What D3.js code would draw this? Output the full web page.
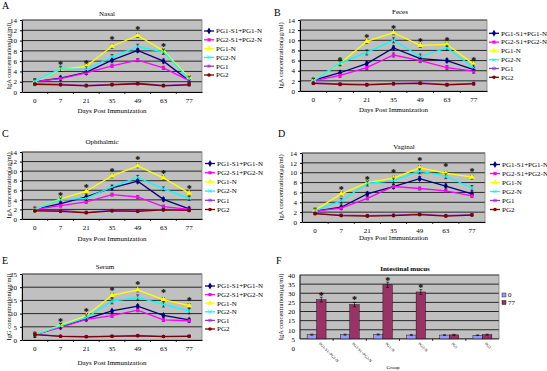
<!DOCTYPE html>
<html>
<head>
<meta charset="utf-8">
<script src="https://cdn.jsdelivr.net/npm/d3@7"></script>
<style>
body { margin: 0; background: #fff; }
svg { display: block; }
text { font-family: "Liberation Serif", "Times New Roman", serif; fill: #000; }
</style>
</head>
<body>
<div class="canvas"></div>
<script>
// categories
const days = ["0", "7", "21", "35", "49", "63", "77"]
const groups = ["PG1-S1+PG1-N", "PG2-S1+PG2-N", "PG1-N", "PG2-N", "PG1", "PG2"]
const colors = ["#000080", "#ff00ff", "#ffff00", "#00ffff", "#9933cc", "#800000"]

// A - nasal IgA, one row per group
const nasal = [
    [2.0, 2.7, 3.8, 6.2, 8.1, 6.0, 2.2],
    [2.0, 2.6, 3.7, 5.1, 6.2, 4.7, 2.2],
    [2.0, 4.4, 5.0, 8.9, 11.0, 8.0, 2.8],
    [2.1, 4.5, 4.4, 6.8, 8.8, 7.8, 2.5],
    [1.6, 1.5, 1.3, 1.5, 1.7, 1.3, 1.5],
    [1.5, 1.4, 1.2, 1.4, 1.6, 1.2, 1.4]
]
const nasalErr = [0.4, 0.3, 0.4, 0.5, 0.2, 0.2]
const nasalStars = [null, 5.6, 5.8, 10.5, 12.4, 9.0, null]

// B - feces IgA
const feces = [
    [2.1, 3.6, 5.4, 8.5, 6.4, 6.0, 4.2],
    [2.0, 3.1, 4.6, 7.1, 6.0, 4.6, 3.9],
    [2.1, 5.4, 9.8, 11.5, 9.0, 9.2, 5.3],
    [2.0, 5.5, 7.6, 10.0, 6.8, 8.5, 4.6],
    [1.6, 1.4, 1.3, 1.5, 1.6, 1.3, 1.5],
    [1.5, 1.3, 1.2, 1.4, 1.5, 1.2, 1.4]
]
const fecesErr = [0.4, 0.4, 0.4, 0.5, 0.2, 0.2]
const fecesStars = [null, 6.3, 10.8, 12.5, 10.0, 10.1, 6.2]

// C - ophthalmic IgA
const ophthalmic = [
    [2.0, 3.2, 4.6, 6.5, 7.9, 4.1, 2.1],
    [2.0, 2.8, 3.6, 5.1, 4.6, 2.6, 2.0],
    [2.0, 4.2, 5.8, 9.0, 11.1, 8.6, 5.4],
    [2.1, 4.0, 4.3, 6.7, 8.7, 6.3, 4.3],
    [1.8, 1.8, 1.4, 1.8, 1.7, 2.0, 1.9],
    [1.7, 1.6, 1.3, 1.7, 1.6, 1.9, 1.8]
]
const ophthalmicErr = [0.4, 0.3, 0.4, 0.4, 0.2, 0.2]
const ophthalmicStars = [null, 5.2, 6.8, 10.1, 12.7, 9.7, 6.6]

// D - vaginal IgA
const vaginal = [
    [2.2, 3.0, 5.7, 7.2, 8.8, 7.3, 5.7],
    [2.2, 2.8, 4.8, 7.2, 6.8, 6.3, 5.3],
    [2.4, 5.7, 8.0, 8.9, 11.0, 9.9, 9.1],
    [2.3, 4.3, 7.8, 8.4, 10.3, 9.3, 6.9],
    [1.7, 1.4, 1.3, 1.4, 1.6, 1.3, 1.5],
    [1.7, 1.3, 1.2, 1.3, 1.5, 1.2, 1.4]
]
const vaginalErr = [0.4, 0.3, 0.4, 0.5, 0.2, 0.2]
const vaginalStars = [null, 6.8, 8.8, 10.2, 12.6, 11.4, 10.5]

// E - serum IgG
const serum = [
    [2.0, 5.0, 8.0, 11.0, 12.8, 9.3, 7.6],
    [2.0, 4.8, 7.8, 9.2, 11.3, 7.6, 7.3],
    [2.0, 5.5, 9.2, 16.9, 19.0, 15.3, 13.0],
    [2.0, 5.3, 8.5, 14.7, 16.1, 13.5, 10.9],
    [2.1, 1.5, 1.3, 1.5, 1.7, 1.4, 1.5],
    [2.0, 1.4, 1.2, 1.4, 1.6, 1.3, 1.4]
]
const serumErr = [0.6, 0.6, 0.8, 1.0, 0.3, 0.3]
const serumStars = [null, 7.5, 11.3, 19.3, 21.5, 18.2, 15.5]

// F - intestinal mucus IgA, day 0 and day 77
const mucusDay0 = [7.3, 7.3, 7.4, 7.1, 7.1, 7.0]
const mucusDay77 = [26.5, 23.8, 34.6, 30.7, 7.2, 7.3]
const mucusErr0 = [0.3, 0.3, 0.3, 0.3, 0.2, 0.2]
const mucusErr77 = [1.3, 1.2, 1.5, 1.3, 0.3, 0.3]
const mucusStars = [29.4, 27.2, 37.8, 33.8, null, null]

const svg = d3.select(".canvas")
    .append("svg")
    .attr("width", 547)
    .attr("height", 371)

svg.append("rect").attr("width", 547).attr("height", 371).attr("fill", "#fff")

const symbols = [d3.symbolDiamond, d3.symbolSquare, d3.symbolTriangle, d3.symbolTimes, d3.symbolAsterisk || d3.symbolCross, d3.symbolCircle]
const symSizes = [14, 10, 14, 8, 10, 10]
const stroked = [false, false, false, true, true, false]

function marker(g, i, cx, cy) {
    const s = g.append("path")
        .attr("d", d3.symbol().type(symbols[i]).size(symSizes[i])())
        .attr("transform", `translate(${cx}, ${cy})`)
    if (stroked[i]) s.attr("fill", "none").attr("stroke", colors[i]).attr("stroke-width", 0.8)
    else s.attr("fill", colors[i])
}

function styleAxis(ax) {
    ax.attr("font-family", "Liberation Serif").attr("font-size", 7)
    ax.select(".domain").attr("stroke", "#000")
    ax.selectAll(".tick line").attr("stroke", "#000")
}

function linePanel(p) {
    const g = svg.append("g")
    const x = d3.scaleBand().domain(days).range([p.x0, p.x1])
    const y = d3.scaleLinear().domain([0, p.ymax]).range([p.y1, p.y0])
    const ticks = d3.range(0, p.ymax + p.step / 2, p.step)
    const cx = d => x(d) + x.bandwidth() / 2

    g.append("rect")
        .attr("x", p.x0).attr("y", p.y0)
        .attr("width", p.x1 - p.x0).attr("height", p.y1 - p.y0)
        .attr("fill", "#c0c0c0")

    g.selectAll(".grid")
        .data(ticks.slice(1))
        .enter()
        .append("line")
        .attr("x1", p.x0).attr("x2", p.x1)
        .attr("y1", d => y(d)).attr("y2", d => y(d))
        .attr("stroke", "#000").attr("stroke-width", 0.8)

    g.append("rect")
        .attr("x", p.x0).attr("y", p.y0)
        .attr("width", p.x1 - p.x0).attr("height", p.y1 - p.y0)
        .attr("fill", "none").attr("stroke", "#808080").attr("stroke-width", 0.8)

    const yAxisGroup = g.append("g")
        .attr("transform", `translate(${p.x0}, 0)`)
        .call(d3.axisLeft(y).tickValues(ticks).tickSize(2).tickPadding(3).tickSizeOuter(0))
    styleAxis(yAxisGroup)

    const xAxisGroup = g.append("g")
        .attr("transform", `translate(0, ${p.y1})`)
        .call(d3.axisBottom(x).tickSize(0).tickPadding(6).tickSizeOuter(0))
    styleAxis(xAxisGroup)

    // excel style ticks between categories
    g.selectAll(".xt")
        .data(days.slice(1))
        .enter()
        .append("line")
        .attr("x1", d => x(d)).attr("x2", d => x(d))
        .attr("y1", p.y1).attr("y2", p.y1 + 2)
        .attr("stroke", "#000").attr("stroke-width", 0.8)

    const line = d3.line()
        .x((d, i) => cx(days[i]))
        .y(d => y(d))

    p.data.forEach((vals, s) => {
        g.append("path")
            .attr("d", line(vals))
            .attr("fill", "none")
            .attr("stroke", colors[s])
            .attr("stroke-width", 1.3)

        vals.forEach((v, i) => {
            const px = cx(days[i])
            const e = p.err[s]
            g.append("line").attr("x1", px).attr("x2", px)
                .attr("y1", y(v - e)).attr("y2", y(v + e))
                .attr("stroke", "#000").attr("stroke-width", 0.6)
            ;[v - e, v + e].forEach(c => {
                g.append("line").attr("x1", px - 1.5).attr("x2", px + 1.5)
                    .attr("y1", y(c)).attr("y2", y(c))
                    .attr("stroke", "#000").attr("stroke-width", 0.6)
            })
            marker(g, s, px, y(v))
        })
    })

    p.stars.forEach((v, i) => {
        if (v === null) return
        g.append("text")
            .attr("x", cx(days[i]))
            .attr("y", y(v) + 4.5)
            .attr("text-anchor", "middle")
            .attr("font-size", 10)
            .attr("font-weight", "bold")
            .text("*")
    })

    // titles
    g.append("text").attr("x", p.letterX).attr("y", p.letterY)
        .attr("font-size", 10).text(p.letter)
    g.append("text").attr("x", p.titleX).attr("y", p.titleY)
        .attr("text-anchor", "middle").attr("font-size", 7).text(p.title)
    g.append("text").attr("x", (p.x0 + p.x1) / 2).attr("y", p.axisTitleY)
        .attr("text-anchor", "middle").attr("font-size", 7).text("Days Post Immunization")
    g.append("text")
        .attr("transform", `translate(${p.ylabX}, ${(p.y0 + p.y1) / 2}) rotate(-90)`)
        .attr("text-anchor", "middle").attr("dominant-baseline", "central")
        .attr("font-size", 6.5).text(p.ylabel)

    // legend
    groups.forEach((name, s) => {
        const ly = p.legY + s * p.legStep
        g.append("line").attr("x1", p.legX).attr("x2", p.legX + 10)
            .attr("y1", ly).attr("y2", ly)
            .attr("stroke", colors[s]).attr("stroke-width", 1.3)
        marker(g, s, p.legX + 5, ly)
        g.append("text").attr("x", p.legX + 12).attr("y", ly + 2.3)
            .attr("font-size", 7).text(name)
    })
}

const igaLabel = "IgA concentration(\u03bcg/ml)"

linePanel({ data: nasal, err: nasalErr, stars: nasalStars, ymax: 14, step: 2,
    x0: 22, x1: 202, y0: 20, y1: 92, letter: "A", letterX: 2, letterY: 9,
    title: "Nasal", titleX: 107, titleY: 15.5, axisTitleY: 113, ylabX: 8, ylabel: igaLabel,
    legX: 204, legY: 31, legStep: 8.8 })

linePanel({ data: feces, err: fecesErr, stars: fecesStars, ymax: 14, step: 2,
    x0: 300, x1: 487, y0: 20, y1: 91, letter: "B", letterX: 274, letterY: 16,
    title: "Feces", titleX: 400, titleY: 13.5, axisTitleY: 112, ylabX: 280, ylabel: igaLabel,
    legX: 489, legY: 33.3, legStep: 8.8 })

linePanel({ data: ophthalmic, err: ophthalmicErr, stars: ophthalmicStars, ymax: 14, step: 2,
    x0: 22, x1: 202, y0: 152, y1: 219, letter: "C", letterX: 2, letterY: 137,
    title: "Ophthalmic", titleX: 102, titleY: 143.5, axisTitleY: 240.5, ylabX: 8, ylabel: igaLabel,
    legX: 205, legY: 163.5, legStep: 9.2 })

linePanel({ data: vaginal, err: vaginalErr, stars: vaginalStars, ymax: 14, step: 2,
    x0: 302, x1: 485, y0: 153, y1: 222, letter: "D", letterX: 278, letterY: 137,
    title: "Vaginal", titleX: 404, titleY: 148.5, axisTitleY: 239.5, ylabX: 280, ylabel: igaLabel,
    legX: 490, legY: 164.5, legStep: 9 })

linePanel({ data: serum, err: serumErr, stars: serumStars, ymax: 25, step: 5,
    x0: 22, x1: 202, y0: 274, y1: 340, letter: "E", letterX: 2, letterY: 264,
    title: "Serum", titleX: 105, titleY: 268.5, axisTitleY: 364.5, ylabX: 8,
    ylabel: "IgG concentration(\u03bcg/ml)",
    legX: 205, legY: 286, legStep: 8.6 })

// F - grouped bars
const fg = svg.append("g")
const fx = d3.scaleBand().domain(groups).range([300, 499])
const fxi = d3.scaleBand().domain(["0", "77"]).range([0, fx.bandwidth()]).paddingOuter(0.75)
const fy = d3.scaleLinear().domain([0, 40]).range([348, 275])
const fBarColors = ["#9999ff", "#993366"]

fg.append("rect").attr("x", 300).attr("y", fy(40))
    .attr("width", 199).attr("height", fy(5) - fy(40)).attr("fill", "#c0c0c0")
fg.selectAll(".grid")
    .data(d3.range(10, 41, 5))
    .enter()
    .append("line")
    .attr("x1", 300).attr("x2", 499)
    .attr("y1", d => fy(d)).attr("y2", d => fy(d))
    .attr("stroke", "#000").attr("stroke-width", 0.8)
fg.append("rect").attr("x", 300).attr("y", fy(40))
    .attr("width", 199).attr("height", fy(5) - fy(40))
    .attr("fill", "none").attr("stroke", "#808080").attr("stroke-width", 0.8)

const fyAxis = fg.append("g")
    .attr("transform", "translate(300, 0)")
    .call(d3.axisLeft(fy).tickValues(d3.range(0, 41, 5)).tickSize(0).tickPadding(5))
styleAxis(fyAxis)
fyAxis.select(".domain").remove()
fg.append("line").attr("x1", 300).attr("x2", 300).attr("y1", fy(40)).attr("y2", fy(5))
    .attr("stroke", "#000").attr("stroke-width", 0.8)
fg.append("line").attr("x1", 300).attr("x2", 499).attr("y1", fy(5)).attr("y2", fy(5))
    .attr("stroke", "#000").attr("stroke-width", 0.8)

const fSeries = [[mucusDay0, mucusErr0], [mucusDay77, mucusErr77]]
fSeries.forEach(([vals, errs], k) => {
    const key = ["0", "77"][k]
    fg.selectAll(".bar" + k)
        .data(vals)
        .enter()
        .append("rect")
        .attr("x", (d, i) => fx(groups[i]) + fxi(key))
        .attr("width", fxi.bandwidth())
        .attr("y", d => fy(d))
        .attr("height", d => fy(5) - fy(d))
        .attr("fill", fBarColors[k])
        .attr("stroke", "#000").attr("stroke-width", 0.4)
    vals.forEach((v, i) => {
        const px = fx(groups[i]) + fxi(key) + fxi.bandwidth() / 2
        fg.append("line").attr("x1", px).attr("x2", px)
            .attr("y1", fy(v - errs[i])).attr("y2", fy(v + errs[i]))
            .attr("stroke", "#000").attr("stroke-width", 0.6)
        ;[v - errs[i], v + errs[i]].forEach(c => {
            fg.append("line").attr("x1", px - 1.5).attr("x2", px + 1.5)
                .attr("y1", fy(c)).attr("y2", fy(c))
                .attr("stroke", "#000").attr("stroke-width", 0.6)
        })
    })
})

// tick marks between groups
fg.selectAll(".fxt")
    .data(groups.slice(1))
    .enter()
    .append("line")
    .attr("x1", d => fx(d)).attr("x2", d => fx(d))
    .attr("y1", fy(5)).attr("y2", fy(5) + 2)
    .attr("stroke", "#000").attr("stroke-width", 0.8)

mucusStars.forEach((v, i) => {
    if (v === null) return
    fg.append("text")
        .attr("x", fx(groups[i]) + fxi("77") + fxi.bandwidth() / 2)
        .attr("y", fy(v) + 4.5)
        .attr("text-anchor", "middle")
        .attr("font-size", 10).attr("font-weight", "bold")
        .text("*")
})

groups.forEach(name => {
    const gx = fx(name) + fx.bandwidth() / 2 + 2
    fg.append("text")
        .attr("transform", `translate(${gx}, 344) rotate(45)`)
        .attr("font-size", 4).text(name)
})

fg.append("text").attr("x", 276).attr("y", 264).attr("font-size", 10).text("F")
fg.append("text").attr("x", 405).attr("y", 270.5).attr("text-anchor", "middle")
    .attr("font-size", 7).attr("font-weight", "bold").text("Intestinal mucus")
fg.append("text").attr("x", 393).attr("y", 369).attr("text-anchor", "middle")
    .attr("font-size", 5).text("Group")
fg.append("text")
    .attr("transform", `translate(280, ${(fy(40) + fy(5)) / 2}) rotate(-90)`)
    .attr("text-anchor", "middle").attr("dominant-baseline", "central")
    .attr("font-size", 6.5).text(igaLabel)

;["0", "77"].forEach((name, k) => {
    const ly = 295 + k * 7.5
    fg.append("rect").attr("x", 502).attr("y", ly - 2).attr("width", 4).attr("height", 4)
        .attr("fill", fBarColors[k]).attr("stroke", "#000").attr("stroke-width", 0.4)
    fg.append("text").attr("x", 508).attr("y", ly + 2.3).attr("font-size", 7).text(name)
})
</script>
</body>
</html>
